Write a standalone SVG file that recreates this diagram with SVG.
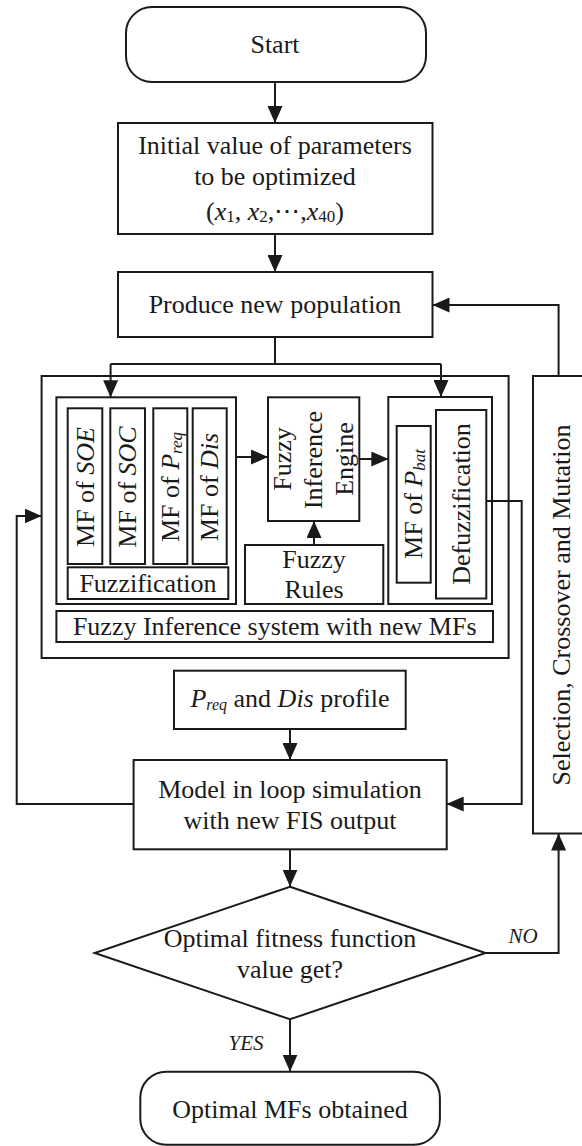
<svg xmlns="http://www.w3.org/2000/svg" width="582" height="1146" viewBox="0 0 582 1146">
<defs>
<marker id="ah" markerUnits="userSpaceOnUse" markerWidth="17" markerHeight="15" refX="17" refY="7.5" orient="auto" viewBox="0 0 17 15">
<path d="M0,0 L17,7.5 L0,15 z" fill="#1a1a1a"/>
</marker>
<style>
rect, polygon { fill: #fff; stroke: #1a1a1a; stroke-width: 2; }
.c path { fill: none; stroke: #1a1a1a; stroke-width: 2; }
text { font-family: "Liberation Serif", "DejaVu Serif", serif; font-size: 26px; fill: #1a1a1a; }
.m { text-anchor: middle; }
.i { font-style: italic; }
.lbl { font-style: italic; font-size: 21px; }
</style>
</defs>
<rect width="582" height="1146" style="fill:#fff;stroke:none"/>

<g id="start"><rect x="126" y="7" width="300" height="75" rx="26" ry="26"/><text class="m" x="275" y="53">Start</text></g>

<g id="init"><rect x="118" y="123" width="314.5" height="111"/>
<text class="m" x="275" y="154">Initial value of parameters</text>
<text class="m" x="275" y="185">to be optimized</text>
<text class="m" x="275" y="220">(<tspan class="i">x</tspan><tspan font-size="17" dy="2">1</tspan><tspan dy="-2">, </tspan><tspan class="i">x</tspan><tspan font-size="17" dy="2">2</tspan><tspan dy="-2">,⋯,</tspan><tspan class="i">x</tspan><tspan font-size="17" dy="2">40</tspan><tspan dy="-2">)</tspan></text></g>

<g id="produce"><rect x="118" y="272" width="314.5" height="65"/><text class="m" x="275" y="313">Produce new population</text></g>

<g id="fis"><rect x="41.6" y="376" width="467" height="282"/></g>

<g id="fuzzification"><rect x="56.4" y="397.3" width="179.6" height="206.7"/>
<rect x="67.7" y="408.3" width="34.6" height="155.7"/>
<rect x="110.3" y="408.3" width="34.7" height="155.7"/>
<rect x="153.3" y="408.3" width="34" height="155.7"/>
<rect x="192.7" y="408.3" width="34" height="155.7"/>
<text class="m" transform="translate(93.6,487) rotate(-90)">MF of <tspan class="i">SOE</tspan></text>
<text class="m" transform="translate(136.3,487) rotate(-90)">MF of <tspan class="i">SOC</tspan></text>
<text class="m" transform="translate(178.8,487) rotate(-90)">MF of <tspan class="i">P</tspan><tspan class="i" font-size="17" dy="3">req</tspan></text>
<text class="m" transform="translate(218.3,487) rotate(-90)">MF of <tspan class="i">Dis</tspan></text>
<rect x="67.7" y="567.3" width="160.6" height="31.7"/>
<text class="m" x="148" y="591.5">Fuzzification</text></g>

<g id="engine"><rect x="268" y="397.3" width="91.3" height="123.7"/>
<text class="m" transform="translate(291,459) rotate(-90)">Fuzzy</text>
<text class="m" transform="translate(322,460) rotate(-90)">Inference</text>
<text class="m" transform="translate(353,459) rotate(-90)">Engine</text></g>

<g id="rules"><rect x="245" y="545" width="138.3" height="59"/>
<text class="m" x="314" y="568">Fuzzy</text>
<text class="m" x="314" y="598">Rules</text></g>

<g id="defuzz"><rect x="388.3" y="397" width="103.7" height="207"/>
<rect x="396.7" y="426" width="34" height="156.7"/>
<text class="m" transform="translate(422.3,504) rotate(-90)">MF of <tspan class="i">P</tspan><tspan class="i" font-size="17" dy="3">bat</tspan></text>
<rect x="436" y="410" width="50.3" height="188.5"/>
<text class="m" transform="translate(469.6,504) rotate(-90)">Defuzzification</text></g>

<g id="fislabel"><rect x="56.4" y="611" width="436.6" height="31"/><text class="m" x="274.7" y="635">Fuzzy Inference system with new MFs</text></g>

<g id="selection"><rect x="533" y="376" width="54" height="457.5"/>
<text class="m" transform="translate(570,605) rotate(-90)">Selection, Crossover and Mutation</text></g>

<g id="profile"><rect x="174" y="670.7" width="231.7" height="58.3"/>
<text class="m" x="290" y="707"><tspan class="i">P</tspan><tspan class="i" font-size="16" dy="3">req</tspan><tspan dy="-3"> and </tspan><tspan class="i">Dis</tspan> profile</text></g>

<g id="model"><rect x="133.6" y="760" width="313.1" height="89.3"/>
<text class="m" x="290" y="798">Model in loop simulation</text>
<text class="m" x="290" y="829">with new FIS output</text></g>

<g id="decision"><polygon points="290,886.7 485.5,953 290,1019.3 94.7,953"/>
<text class="m" x="290" y="946.7">Optimal fitness function</text>
<text class="m" x="290" y="978.3">value get?</text></g>

<g id="end"><rect x="140.3" y="1071.7" width="299.6" height="73" rx="26" ry="26"/><text class="m" x="290" y="1118">Optimal MFs obtained</text></g>

<g class="c" id="connectors">
<path d="M275,82 L275,123" marker-end="url(#ah)"/>
<path d="M275,234 L275,272" marker-end="url(#ah)"/>
<path d="M275,337 L275,364 M110.6,364 L441,364"/>
<path d="M110.6,364 L110.6,397.3" marker-end="url(#ah)"/>
<path d="M441,364 L441,397" marker-end="url(#ah)"/>
<path d="M236,457 L268,457" marker-end="url(#ah)"/>
<path d="M359.3,459 L388.3,459" marker-end="url(#ah)"/>
<path d="M314,545 L314,521" marker-end="url(#ah)"/>
<path d="M486.3,501 L521.7,501 L521.7,804 L446.7,804" marker-end="url(#ah)"/>
<path d="M133.6,804 L16.7,804 L16.7,516 L41.6,516" marker-end="url(#ah)"/>
<path d="M558.6,376 L558.6,305 L432.5,305" marker-end="url(#ah)"/>
<path d="M290,729 L290,760" marker-end="url(#ah)"/>
<path d="M290,849.3 L290,886.7" marker-end="url(#ah)"/>
<path d="M485.5,953 L558.6,953 L558.6,833.5" marker-end="url(#ah)"/>
<path d="M290,1019.3 L290,1071.7" marker-end="url(#ah)"/>
<text class="lbl" x="523" y="943" text-anchor="middle">NO</text>
<text class="lbl" x="246" y="1050" text-anchor="middle">YES</text>
</g>
</svg>
